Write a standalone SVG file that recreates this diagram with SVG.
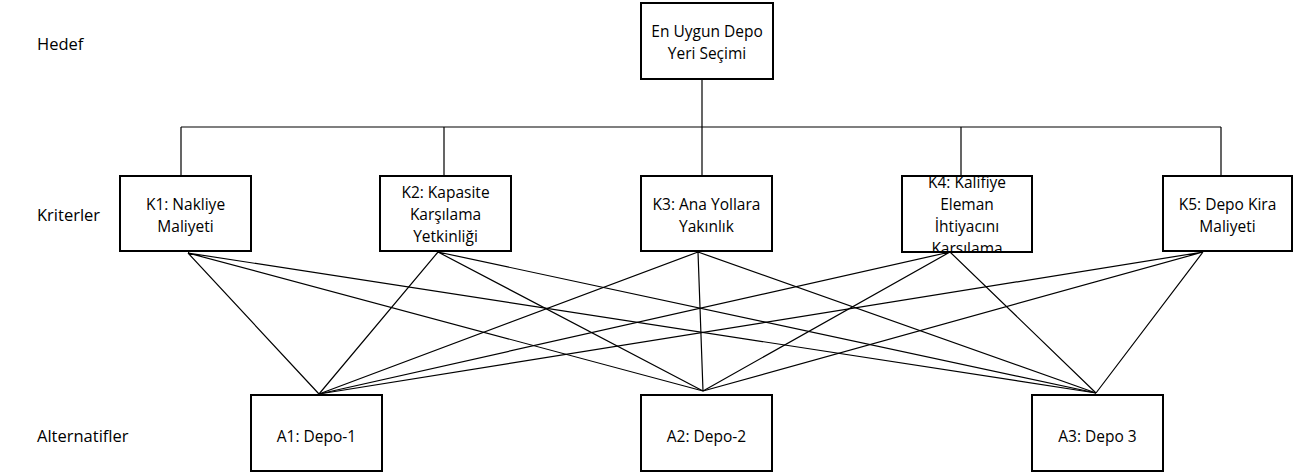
<svg xmlns="http://www.w3.org/2000/svg" width="1309" height="472" viewBox="0 0 1309 472">
<style>
  .box { fill: #ffffff; stroke: #000000; stroke-width: 2; }
  .t { font-family: "Open Sans", "DejaVu Sans", sans-serif; font-size: 15.5px; fill: #000000; text-anchor: middle; }
  .lbl { font-family: "Open Sans", "DejaVu Sans", sans-serif; font-size: 16.5px; fill: #000000; }
  .ln { stroke: #000000; stroke-width: 1.2; fill: none; }
</style>
<defs>
  <clipPath id="clipK4"><rect x="902" y="177" width="130" height="74"/></clipPath>
</defs>
<rect width="1309" height="472" fill="#ffffff"/>

<g id="levels">
  <text class="lbl" x="37" y="50">Hedef</text>
  <text class="lbl" x="37" y="221">Kriterler</text>
  <text class="lbl" x="37" y="442">Alternatifler</text>
</g>

<g id="connectors">
  <path class="ln" d="M702 79 V176 M181 127 H1221 M181 127 V176 M444 127 V176 M961 127 V176 M1221 127 V176"/>
  <path class="ln" d="M188 253 L319 394 M188 253 L703 391 M188 253 L1096 393"/>
  <path class="ln" d="M438 252 L319 394 M438 252 L703 391 M438 252 L1096 393"/>
  <path class="ln" d="M698 252 L319 394 M698 252 L703 391 M698 252 L1096 393"/>
  <path class="ln" d="M950 252 L319 394 M950 252 L703 391 M950 252 L1096 393"/>
  <path class="ln" d="M1203 252 L319 394 M1203 252 L703 391 M1203 252 L1096 393"/>
</g>

<g id="goal">
  <rect class="box" x="641" y="3" width="132" height="76"/>
  <text class="t" x="707" y="37">En Uygun Depo</text>
  <text class="t" x="707" y="59">Yeri Seçimi</text>
</g>

<g id="K1">
  <rect class="box" x="120" y="176" width="131" height="75"/>
  <text class="t" x="185.5" y="210">K1: Nakliye</text>
  <text class="t" x="185.5" y="232">Maliyeti</text>
</g>
<g id="K2">
  <rect class="box" x="380" y="176" width="131" height="75"/>
  <text class="t" x="445.5" y="198">K2: Kapasite</text>
  <text class="t" x="445.5" y="220">Karşılama</text>
  <text class="t" x="445.5" y="242">Yetkinliği</text>
</g>
<g id="K3">
  <rect class="box" x="641" y="176" width="131" height="75"/>
  <text class="t" x="706.5" y="210">K3: Ana Yollara</text>
  <text class="t" x="706.5" y="232">Yakınlık</text>
</g>
<g id="K4">
  <rect class="box" x="902" y="176" width="130" height="76"/>
  <g clip-path="url(#clipK4)">
    <text class="t" x="967" y="188">K4: Kalifiye</text>
    <text class="t" x="967" y="210">Eleman</text>
    <text class="t" x="967" y="232">İhtiyacını</text>
    <text class="t" x="967" y="254">Karşılama</text>
  </g>
</g>
<g id="K5">
  <rect class="box" x="1163" y="176" width="129" height="75"/>
  <text class="t" x="1227.5" y="210">K5: Depo Kira</text>
  <text class="t" x="1227.5" y="232">Maliyeti</text>
</g>

<g id="A1">
  <rect class="box" x="251" y="395" width="131" height="76"/>
  <text class="t" x="316.5" y="442">A1: Depo-1</text>
</g>
<g id="A2">
  <rect class="box" x="641" y="395" width="131" height="76"/>
  <text class="t" x="706.5" y="442">A2: Depo-2</text>
</g>
<g id="A3">
  <rect class="box" x="1032" y="395" width="131" height="76"/>
  <text class="t" x="1097.5" y="442">A3: Depo 3</text>
</g>
</svg>
